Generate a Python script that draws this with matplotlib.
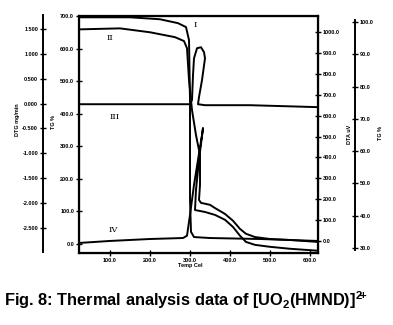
import numpy as np
import matplotlib.pyplot as plt

plt.rcParams['font.family'] = ['Liberation Sans', 'DejaVu Sans']
plt.rcParams['mathtext.fontset'] = 'custom'
plt.rcParams['mathtext.bf'] = 'Liberation Sans:bold'
plt.rcParams['mathtext.rm'] = 'Liberation Sans:bold'

# Curves (main axis units: x = Temp, y = left inner scale)
x1 = [25, 150, 225, 270, 290, 297.5, 300, 300, 302.5, 310, 350, 475, 620]
y1 = [696, 696, 690, 678, 666, 626, 442, 135, 37, 21, 18, 15, 9]

x2 = [25, 125, 200, 262.5, 285, 292.5, 297.5, 305, 315, 325, 325, 322.5, 327.5,
      350, 362.5, 387.5, 407.5, 425, 440, 462.5, 500, 550, 620]
y2 = [659, 662, 650, 635, 623, 601, 503, 411, 334, 273, 181, 135, 126,
      120, 110, 92, 71, 46, 31, 21, 15, 12, 6]

x3 = [25, 300, 305, 307.5, 310, 317.5, 327.5, 335, 337.5, 330, 322.5, 320, 337.5, 450, 620]
y3 = [429, 429, 442, 518, 570, 601, 604, 589, 570, 503, 451, 429, 426, 426, 420]

x4 = [25, 100, 200, 282.5, 292.5, 300, 310, 320, 330, 332.5, 322.5, 315, 312.5,
      337.5, 362.5, 387.5, 407.5, 425, 440, 462.5, 500, 550, 620]
y4 = [3, 9, 15, 18, 25, 89, 181, 258, 334, 356, 258, 166, 104,
      98, 89, 74, 52, 25, 6, -3, -9, -15, -21]

curve_labels = ['I', 'II', 'III', 'IV']
curve_label_pos = [(312, 672), (100, 632), (112, 390), (107, 43)]

x_ticks = [100, 200, 300, 400, 500, 600]
main_ticks = [0, 100, 200, 300, 400, 500, 600, 700]
right_ticks = [0, 100, 200, 300, 400, 500, 600, 700, 800, 900, 1000]
dtg_ticks = [1.5, 1.0, 0.5, 0.0, -0.5, -1.0, -1.5, -2.0, -2.5]
tg_ticks = [100, 90, 80, 70, 60, 50, 40, 30]

W, H = 393, 325
fig = plt.figure(figsize=(3.93, 3.25), dpi=100)

def box(l, t, r, b):
    return [l / W, 1 - b / H, (r - l) / W, (b - t) / H]

tick_font = dict(fontsize=4, fontweight='bold')

ax = fig.add_axes(box(79, 16, 318, 253))
for xs, ys in [(x1, y1), (x2, y2), (x3, y3), (x4, y4)]:
    ax.plot(xs, ys, color='black', lw=1.4)
for lab, (tx, ty) in zip(curve_labels, curve_label_pos):
    ax.text(tx, ty, lab, fontsize=6, family='DejaVu Serif', ha='center', va='center')
ax.set_xlim(22.5, 620)
ax.set_ylim(-28, 700)
ax.set_xticks(x_ticks)
ax.set_xticklabels(['{:.1f}'.format(v) for v in x_ticks], **tick_font)
ax.set_yticks(main_ticks)
ax.set_yticklabels(['{:.1f}'.format(v) for v in main_ticks], **tick_font)
ax.tick_params(axis='both', direction='inout', length=4, width=1, pad=1.5)
for s in ax.spines.values():
    s.set_linewidth(1.6)
ax.text(300, -60, 'Temp Cel', fontsize=4, fontweight='bold', ha='center', va='top')

# inner right scale on the box edge
axr = ax.twinx()
axr.set_ylim(-57.4, 1076.6)
axr.set_yticks(right_ticks)
axr.set_yticklabels(['{:.1f}'.format(v) for v in right_ticks], **tick_font)
axr.tick_params(axis='y', direction='inout', length=4, width=1, pad=1.5)
axr.text(1.13, 0.5, 'DTA uV', transform=axr.transAxes, rotation=90,
         fontsize=4, fontweight='bold', ha='center', va='center')

# outer left DTG scale
axl = fig.add_axes(box(43, 15, 43.5, 252))
axl.set_ylim(-2.982, 1.781)
axl.set_yticks(dtg_ticks)
axl.set_yticklabels(['{:.3f}'.format(v) for v in dtg_ticks], **tick_font)
axl.tick_params(axis='y', direction='inout', length=4, width=1, pad=1.5)
axl.set_xticks([])
axl.patch.set_visible(False)
for k in ['top', 'right', 'bottom']:
    axl.spines[k].set_visible(False)
axl.spines['left'].set_linewidth(1.4)
fig.text(18 / W, 1 - 120 / H, 'DTG mg/min', rotation=90, fontsize=4,
         fontweight='bold', ha='center', va='center')
fig.text(53 / W, 1 - 122 / H, 'TG %', rotation=90, fontsize=4,
         fontweight='bold', ha='center', va='center')

# outer right TG scale
axt = fig.add_axes(box(354.5, 20, 355, 250))
axt.set_ylim(29.4, 100.6)
axt.yaxis.tick_right()
axt.set_yticks(tg_ticks)
axt.set_yticklabels(['{:.1f}'.format(v) for v in tg_ticks], **tick_font)
axt.tick_params(axis='y', direction='inout', length=4, width=1, pad=1.5)
axt.set_xticks([])
axt.patch.set_visible(False)
for k in ['top', 'left', 'bottom']:
    axt.spines[k].set_visible(False)
axt.spines['right'].set_linewidth(1.4)
fig.text(380 / W, 1 - 133 / H, 'TG %', rotation=90, fontsize=4,
         fontweight='bold', ha='center', va='center')

fig.text(4 / W, 1 - 300 / H,
         r'Fig. 8: Thermal analysis data of [UO$_\mathbf{2}$(HMND)]$^{\mathbf{2}\!\mathbf{+}}$',
         fontsize=11.8, fontweight='bold', ha='left', va='center')

fig.savefig('out.png', dpi=100)
